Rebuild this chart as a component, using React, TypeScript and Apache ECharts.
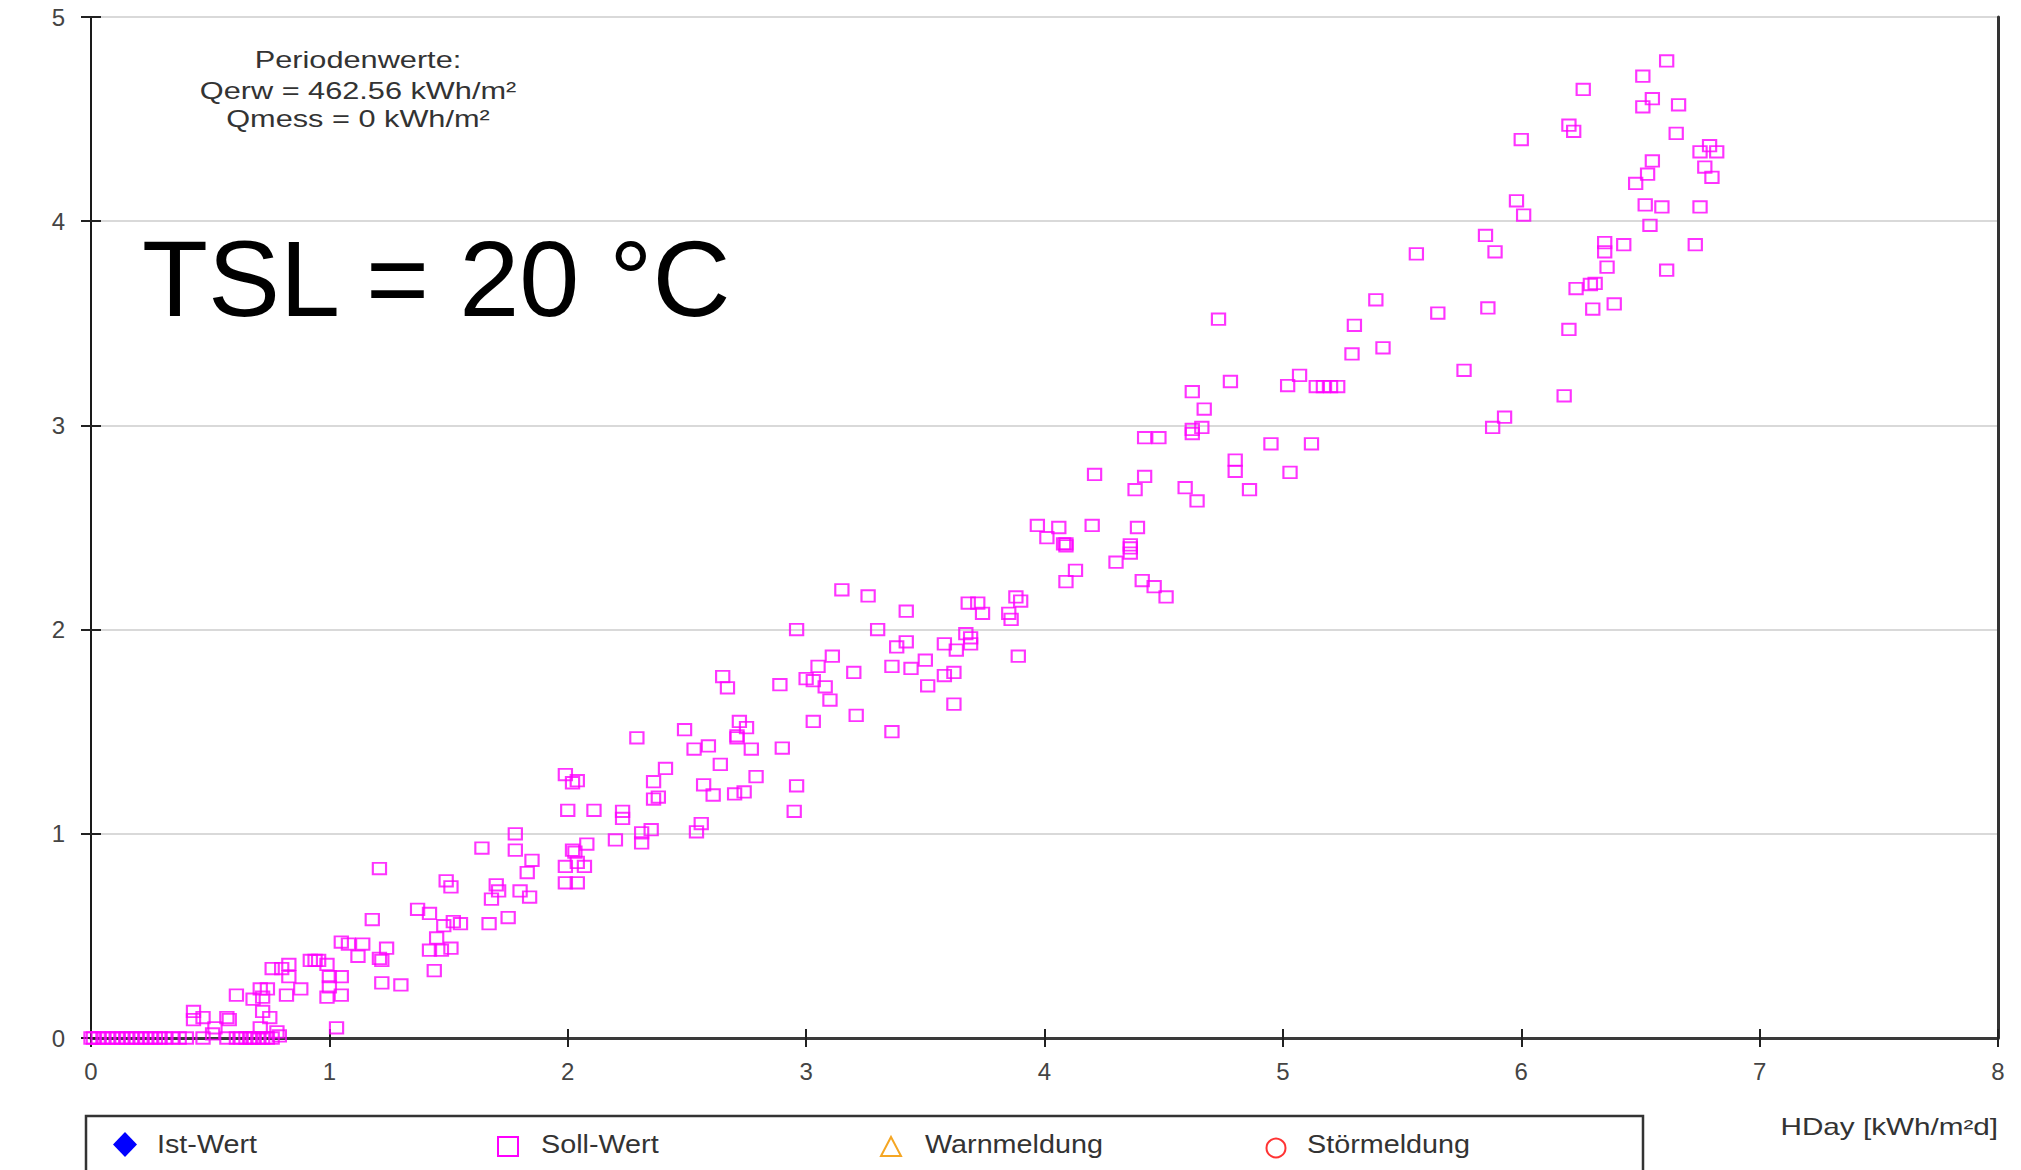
import React, { useEffect, useRef } from "react";
import * as echarts from "echarts";

// Soll-Wert points: HDay [kWh/m²d] (x) and value (y)
const sollX: number[] = [
  0, 0.01, 0.03, 0.05, 0.07, 0.09, 0.11, 0.13, 0.15, 0.17, 0.19, 0.21, 0.23, 0.25, 0.27, 0.29, 0.31, 0.34, 0.37, 0.4,
  0.47, 0.51, 0.57, 0.61, 0.63, 0.65, 0.67, 0.68, 0.7, 0.72, 0.74, 0.76, 0.79,
  0.43, 0.43, 0.47, 0.57, 0.58, 0.52, 0.72, 0.75, 0.71, 0.78, 1.03,
  0.61, 0.68, 0.71, 0.74, 0.72, 0.76, 0.8, 0.83, 0.83, 0.82, 0.88, 0.92, 0.94, 0.955, 0.99, 1.0, 1.05, 1.0, 0.99, 1.05,
  1.05, 1.08, 1.14, 1.24, 1.12, 1.21, 1.22, 1.22, 1.3, 1.21, 1.18, 1.37, 1.42, 1.45, 1.42, 1.47, 1.51, 1.44, 1.48, 1.52,
  1.55, 1.49, 1.51, 1.67, 1.75, 1.7, 1.71, 1.68, 1.8, 1.84, 1.64, 1.78, 1.78, 1.85, 1.83,
  1.99, 2.02, 2.04, 2.0, 2.11, 2.02, 2.03, 2.08, 2.04, 2.07, 1.99, 1.99, 2.04,
  2.29, 2.49, 2.72, 2.75, 2.71, 2.71, 2.53, 2.59, 2.77, 2.9, 2.41, 2.36, 2.64, 2.79, 2.57, 2.61, 2.7, 2.74, 2.96, 2.95,
  2.36, 2.38, 2.23, 2.23, 2.31, 2.35, 2.31, 2.2, 2.56, 2.54,
  2.65, 2.67, 2.89, 3.21, 3.03, 3.36, 2.96, 3.15, 3.26, 3.3, 3.42, 3.11, 3.05, 3.0, 3.03, 3.08, 3.1, 3.2, 3.36, 3.44,
  3.5, 3.58, 3.62, 3.51, 3.62, 3.42, 3.38, 3.58, 3.63, 3.67, 3.69, 3.69, 3.68, 3.72, 3.74, 3.88, 3.9, 3.85, 3.86, 3.89,
  3.97, 4.06, 4.01, 4.08, 4.09, 4.09, 4.13, 4.09, 4.2, 4.39, 4.36, 4.36, 4.36, 4.3, 4.41, 4.46, 4.51,
  4.21, 4.42, 4.38, 4.59, 4.64, 4.42, 4.48, 4.62, 4.62, 4.66, 4.67, 4.62, 4.78, 4.73, 4.8, 4.8, 4.86, 4.95, 5.12, 5.03,
  5.02, 5.07, 5.14, 5.17, 5.2, 5.23, 5.3, 5.29, 5.42, 5.39, 5.65, 5.76, 5.86, 5.93, 5.88, 5.56,
  6.61, 6.51, 6.26, 6.55, 6.51, 6.66, 6.2, 6.22, 6.65, 6.0, 6.79, 6.75, 6.82, 6.55, 6.53, 6.48, 6.77, 6.8, 5.98, 6.01,
  6.52, 6.59, 6.75, 6.54, 5.85, 5.89, 6.35, 6.35, 6.43, 6.73, 6.36, 6.61, 6.23, 6.29, 6.31, 6.3, 6.39, 6.2, 6.18,
];
const sollY: number[] = [
  0, 0, 0, 0, 0, 0, 0, 0, 0, 0, 0, 0, 0, 0, 0, 0, 0, 0, 0, 0,
  0, 0.02, 0, 0, 0, 0, 0, 0, 0, 0, 0, 0, 0.01,
  0.13, 0.09, 0.1, 0.1, 0.09, 0.05, 0.13, 0.1, 0.05, 0.03, 0.05,
  0.21, 0.19, 0.24, 0.24, 0.2, 0.34, 0.34, 0.36, 0.3, 0.21, 0.24, 0.38, 0.38, 0.38, 0.36, 0.3, 0.3, 0.25, 0.2, 0.21,
  0.47, 0.46, 0.46, 0.44, 0.4, 0.39, 0.38, 0.27, 0.26, 0.83, 0.58, 0.63, 0.61, 0.49, 0.43, 0.43, 0.44, 0.33, 0.55, 0.57,
  0.56, 0.77, 0.74, 0.56, 0.59, 0.75, 0.72, 0.68, 0.72, 0.69, 0.93, 1.0, 0.92, 0.87, 0.81,
  1.29, 1.25, 1.26, 1.115, 1.115, 0.92, 0.91, 0.95, 0.86, 0.84, 0.84, 0.76, 0.76,
  1.47, 1.51, 1.55, 1.52, 1.48, 1.47, 1.415, 1.43, 1.415, 1.42, 1.32, 1.255, 1.34, 1.28, 1.24, 1.19, 1.195, 1.205, 1.235, 1.11,
  1.17, 1.18, 1.11, 1.075, 1.005, 1.02, 0.955, 0.97, 1.05, 1.01,
  1.77, 1.715, 1.73, 1.58, 1.55, 1.5, 2.0, 2.195, 2.165, 2.0, 2.09, 1.87, 1.82, 1.76, 1.75, 1.72, 1.655, 1.79, 1.82, 1.81,
  1.85, 1.775, 1.79, 1.725, 1.635, 1.94, 1.915, 1.93, 1.9, 1.98, 1.96, 1.93, 2.13, 2.13, 2.08, 2.16, 2.14, 2.08, 2.05, 1.87,
  2.51, 2.5, 2.45, 2.42, 2.42, 2.41, 2.29, 2.235, 2.51, 2.5, 2.415, 2.4, 2.375, 2.33, 2.24, 2.21, 2.16,
  2.76, 2.75, 2.685, 2.695, 2.63, 2.94, 2.94, 2.98, 2.96, 2.99, 3.08, 3.165, 3.215, 3.52, 2.83, 2.775, 2.685, 2.91, 2.91, 2.77,
  3.195, 3.245, 3.19, 3.19, 3.19, 3.19, 3.49, 3.35, 3.38, 3.615, 3.55, 3.27, 3.575, 3.04, 2.99, 3.84,
  4.785, 4.71, 4.645, 4.6, 4.56, 4.57, 4.47, 4.44, 4.43, 4.4, 4.37, 4.34, 4.34, 4.295, 4.23, 4.185, 4.265, 4.215, 4.1, 4.03,
  4.08, 4.07, 4.07, 3.98, 3.93, 3.85, 3.895, 3.85, 3.885, 3.885, 3.775, 3.76, 3.67, 3.69, 3.695, 3.57, 3.595, 3.47, 3.145,
];
// Ist-Wert, Warnmeldung, Störmeldung carry no points in this period
const istX: number[] = [];
const istY: number[] = [];

const xTicks = { min: 0, max: 8, interval: 1 };
const yTicks = { min: 0, max: 5, interval: 1 };

const legendNames = ["Ist-Wert", "Soll-Wert", "Warnmeldung", "Störmeldung"];
const annotationLines = ["Periodenwerte:", "Qerw = 462.56 kWh/m²", "Qmess = 0 kWh/m²"];
const bigLabel = "TSL = 20 °C";
const xAxisTitle = "HDay [kWh/m²d]";

const FONT = "'Liberation Sans', Arial, Helvetica, sans-serif";

export default function App() {
  const ref = useRef<HTMLDivElement>(null);

  useEffect(() => {
    if (!ref.current) return;
    const chart = echarts.init(ref.current, null, { renderer: "svg" });

    const sollData = sollX.map((x, i) => [x, sollY[i]]);
    const istData = istX.map((x, i) => [x, istY[i]]);

    const legendTextX = [157, 541, 925, 1307];
    const legendY = 1145;

    const option: any = {
      animation: false,
      backgroundColor: "#ffffff",
      textStyle: { fontFamily: FONT },
      grid: {
        left: 91,
        right: 23,
        top: 17,
        bottom: 132,
        containLabel: false,
        outerBoundsMode: "none",
      },
      xAxis: [
        {
          type: "value",
          ...xTicks,
          axisLine: { show: true, onZero: false, lineStyle: { color: "#3a3a3a", width: 3 } },
          axisTick: { show: true, inside: false, length: 9, lineStyle: { color: "#222", width: 2 } },
          axisLabel: { fontSize: 24, color: "#444", margin: 21, fontFamily: FONT },
          splitLine: { show: false },
        },
        {
          type: "value",
          ...xTicks,
          position: "bottom",
          axisLine: { show: false, onZero: false },
          axisTick: { show: true, inside: true, length: 9, lineStyle: { color: "#222", width: 2 } },
          axisLabel: { show: false },
          splitLine: { show: false },
        },
      ],
      yAxis: [
        {
          type: "value",
          ...yTicks,
          position: "left",
          axisLine: { show: true, onZero: false, lineStyle: { color: "#1a1a1a", width: 2 } },
          axisTick: { show: true, inside: false, length: 10, lineStyle: { color: "#222", width: 2 } },
          axisLabel: { fontSize: 24, color: "#444", margin: 26, fontFamily: FONT },
          splitLine: { show: true, lineStyle: { color: "#d9d9d9", width: 2 } },
        },
        {
          type: "value",
          ...yTicks,
          position: "left",
          axisLine: { show: false, onZero: false },
          axisTick: { show: true, inside: true, length: 10, lineStyle: { color: "#222", width: 2 } },
          axisLabel: { show: false },
          splitLine: { show: false },
        },
        {
          type: "value",
          ...yTicks,
          position: "right",
          axisLine: { show: true, onZero: false, lineStyle: { color: "#333", width: 3 } },
          axisTick: { show: false },
          axisLabel: { show: false },
          splitLine: { show: false },
        },
      ],
      series: [
        {
          name: legendNames[0],
          type: "scatter",
          data: istData,
          symbol: "diamond",
          symbolSize: [18, 24],
          itemStyle: { color: "#0000ff" },
        },
        {
          name: legendNames[1],
          type: "scatter",
          data: sollData,
          symbol: "rect",
          symbolSize: [13.2, 11.4],
          itemStyle: { color: "rgba(255,255,255,0)", borderColor: "#ff00ff", borderWidth: 2 },
          emphasis: { disabled: true },
          z: 3,
        },
      ],
      graphic: [
        ...annotationLines.map((t, i) => ({
          type: "text",
          x: 358,
          y: [60, 91, 119][i],
          scaleX: 1.28,
          style: {
            text: t,
            fontSize: 24,
            fontFamily: FONT,
            fill: "#333",
            align: "center",
            verticalAlign: "middle",
          },
          z: 10,
        })),
        {
          type: "text",
          x: 142,
          y: 278,
          style: {
            text: bigLabel,
            fontSize: 108,
            fontFamily: FONT,
            fill: "#000",
            align: "left",
            verticalAlign: "middle",
          },
          z: 10,
        },
        {
          type: "text",
          x: 1998,
          y: 1127,
          scaleX: 1.29,
          style: {
            text: xAxisTitle,
            fontSize: 23,
            fontFamily: FONT,
            fill: "#333",
            align: "right",
            verticalAlign: "middle",
          },
          z: 10,
        },
        {
          type: "rect",
          shape: { x: 86, y: 1116, width: 1557, height: 100 },
          style: { fill: "none", stroke: "#333", lineWidth: 2.5 },
          z: 10,
        },
        {
          type: "polygon",
          shape: { points: [[125, 1132], [137, 1144.5], [125, 1157], [113, 1144.5]] },
          style: { fill: "#0000ff", stroke: "none" },
          z: 10,
        },
        {
          type: "rect",
          shape: { x: 498, y: 1137, width: 20, height: 19 },
          style: { fill: "none", stroke: "#ff00ff", lineWidth: 2 },
          z: 10,
        },
        {
          type: "polygon",
          shape: { points: [[891, 1137], [901, 1156], [881, 1156]] },
          style: { fill: "none", stroke: "#f5a623", lineWidth: 2 },
          z: 10,
        },
        {
          type: "circle",
          shape: { cx: 1276, cy: 1148, r: 9.5 },
          style: { fill: "none", stroke: "#ff3333", lineWidth: 2 },
          z: 10,
        },
        ...legendNames.map((name, i) => ({
          type: "text",
          x: legendTextX[i],
          y: legendY,
          scaleX: 1.15,
          style: {
            text: name,
            fontSize: 25,
            fontFamily: FONT,
            fill: "#333",
            align: "left",
            verticalAlign: "middle",
          },
          z: 10,
        })),
      ],
    };

    chart.setOption(option);
    return () => chart.dispose();
  }, []);

  return (
    <div
      ref={ref}
      style={{ position: "fixed", left: 0, top: 0, width: 2021, height: 1170, background: "#fff" }}
    />
  );
}
